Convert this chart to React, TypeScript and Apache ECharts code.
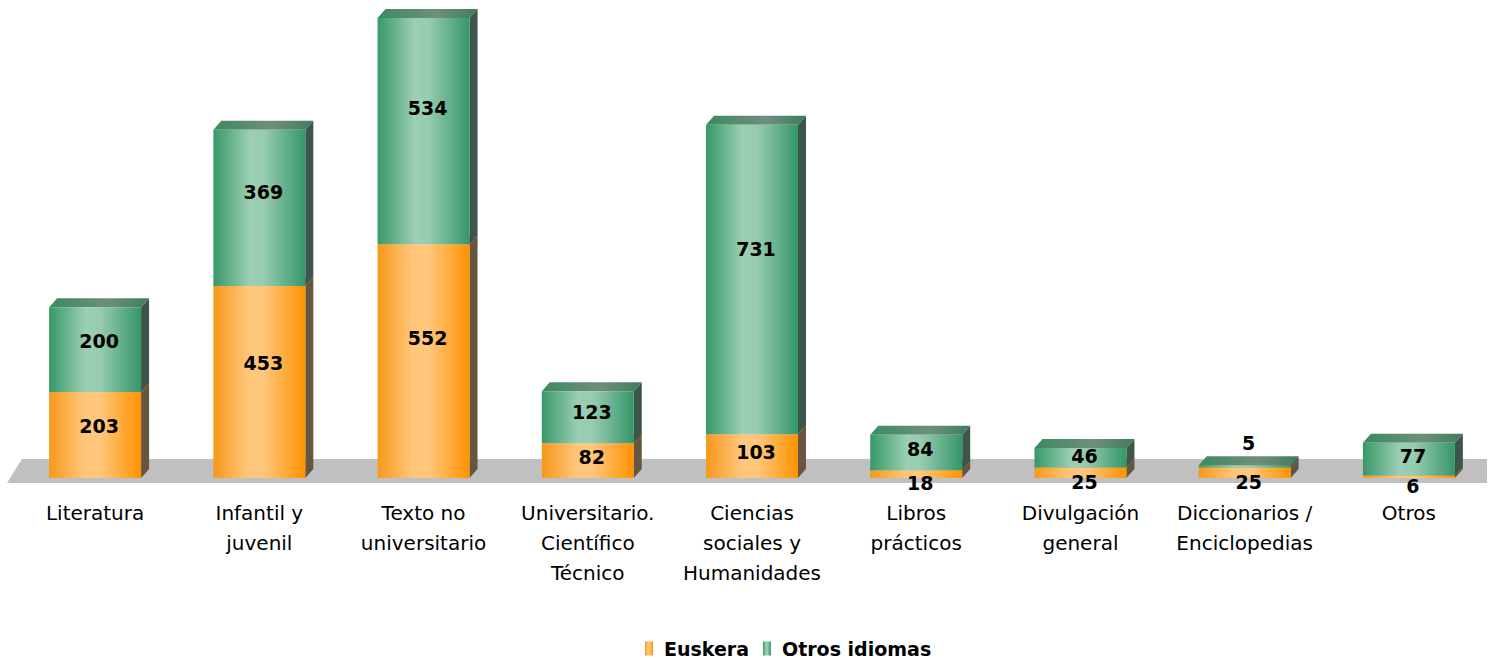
import React, { useEffect, useRef } from "react";
import * as echarts from "echarts";

const categories = [
  "Literatura",
  "Infantil y\njuvenil",
  "Texto no\nuniversitario",
  "Universitario.\nCientífico\nTécnico",
  "Ciencias\nsociales y\nHumanidades",
  "Libros\nprácticos",
  "Divulgación\ngeneral",
  "Diccionarios /\nEnciclopedias",
  "Otros",
];
const euskera = [203, 453, 552, 82, 103, 18, 25, 25, 6];
const otros = [200, 369, 534, 123, 731, 84, 46, 5, 77];
const seriesNames = ["Euskera", "Otros idiomas"];

const DX = 8;
const DY = 9;

const orangeFront = () =>
  new echarts.graphic.LinearGradient(0, 0, 1, 0, [
    { offset: 0, color: "#F7981C" },
    { offset: 0.38, color: "#FFC67A" },
    { offset: 0.55, color: "#FFC77C" },
    { offset: 1, color: "#FF9200" },
  ]);
const greenFront = () =>
  new echarts.graphic.LinearGradient(0, 0, 1, 0, [
    { offset: 0, color: "#379867" },
    { offset: 0.4, color: "#9CCFB5" },
    { offset: 0.55, color: "#97CCB1" },
    { offset: 1, color: "#35966A" },
  ]);
const greenTop = () =>
  new echarts.graphic.LinearGradient(0, 0, 1, 0, [
    { offset: 0, color: "#3E8A60" },
    { offset: 0.6, color: "#6E8E7D" },
    { offset: 1, color: "#3F7C5B" },
  ]);
const orangeTop = () =>
  new echarts.graphic.LinearGradient(0, 0, 1, 0, [
    { offset: 0, color: "#C98A3A" },
    { offset: 0.6, color: "#B59A7A" },
    { offset: 1, color: "#B07A30" },
  ]);

function makeRender(isGreen: boolean) {
  return (params: any, api: any) => {
    const idx = api.value(0);
    const base = api.value(1);
    const v = api.value(2);
    const p0 = api.coord([idx, base]);
    const p1 = api.coord([idx, base + v]);
    const w = api.size([1, 0])[0] * 0.56;
    const x0 = p0[0] - w / 2;
    const x1 = p0[0] + w / 2;
    const yb = p0[1];
    const yt = p1[1];
    const h = yb - yt;
    let ly = (yb + yt) / 2 - h * 0.1;
    if (isGreen && h < 9) ly = yt - DY - 13;
    if (!isGreen && h < 15) ly = yb + 9 - h * 0.5;
    return {
      type: "group",
      children: [
        {
          type: "polygon",
          shape: { points: [[x1, yb], [x1 + DX, yb - DY], [x1 + DX, yt - DY], [x1, yt]] },
          style: { fill: isGreen ? "#3D554A" : "#66553F" },
        },
        {
          type: "polygon",
          shape: { points: [[x0, yt], [x0 + DX, yt - DY], [x1 + DX, yt - DY], [x1, yt]] },
          style: { fill: isGreen ? greenTop() : orangeTop() },
        },
        {
          type: "rect",
          shape: { x: x0, y: yt, width: w, height: h },
          style: { fill: isGreen ? greenFront() : orangeFront() },
        },
        {
          type: "text",
          x: p0[0] + 4,
          y: ly,
          z2: 10,
          style: {
            text: String(v),
            fill: "#000",
            font: "bold 19px 'DejaVu Sans'",
            align: "center",
            verticalAlign: "middle",
            textAlign: "center",
            textVerticalAlign: "middle",
          },
        },
      ],
    };
  };
}

export default function App() {
  const ref = useRef<HTMLDivElement>(null);
  useEffect(() => {
    document.body.style.margin = "0";
    if (!ref.current) return;
    const chart = echarts.init(ref.current, undefined, { renderer: "svg" });
    const dataE = euskera.map((v, i) => [i, 0, v]);
    const dataO = otros.map((v, i) => [i, euskera[i], v]);
    chart.setOption({
      animation: false,
      backgroundColor: "#fff",
      grid: { left: 13, top: 12, width: 1483, height: 466 },
      xAxis: {
        type: "category",
        data: categories,
        axisLine: { show: false },
        axisTick: { show: false },
        axisLabel: {
          color: "#000",
          fontFamily: "DejaVu Sans",
          fontSize: 20,
          lineHeight: 30,
          margin: 20,
          interval: 0,
        },
      },
      yAxis: { type: "value", min: 0, max: 1100, show: false, splitLine: { show: false } },
      legend: {
        left: 640,
        top: 634,
        itemWidth: 8,
        itemHeight: 14,
        itemGap: 14,
        icon: "rect",
        textStyle: { fontFamily: "DejaVu Sans", fontWeight: "bold", fontSize: 19, color: "#000", padding: [0, 0, 0, 6] },
        data: seriesNames,
      },
      graphic: [
        {
          type: "polygon",
          z: -10,
          shape: { points: [[7, 483], [1487, 483], [1487, 459], [22, 459]] },
          style: { fill: "#C0C0C0" },
        },
      ],
      series: [
        {
          type: "custom",
          name: seriesNames[0],
          itemStyle: { color: orangeFront() },
          encode: { x: 0, y: [1, 2] },
          data: dataE,
          renderItem: makeRender(false),
        },
        {
          type: "custom",
          name: seriesNames[1],
          itemStyle: { color: greenFront() },
          encode: { x: 0, y: [1, 2] },
          data: dataO,
          renderItem: makeRender(true),
        },
      ],
    });
    return () => chart.dispose();
  }, []);
  return <div ref={ref} style={{ width: 1491, height: 658 }} />;
}
